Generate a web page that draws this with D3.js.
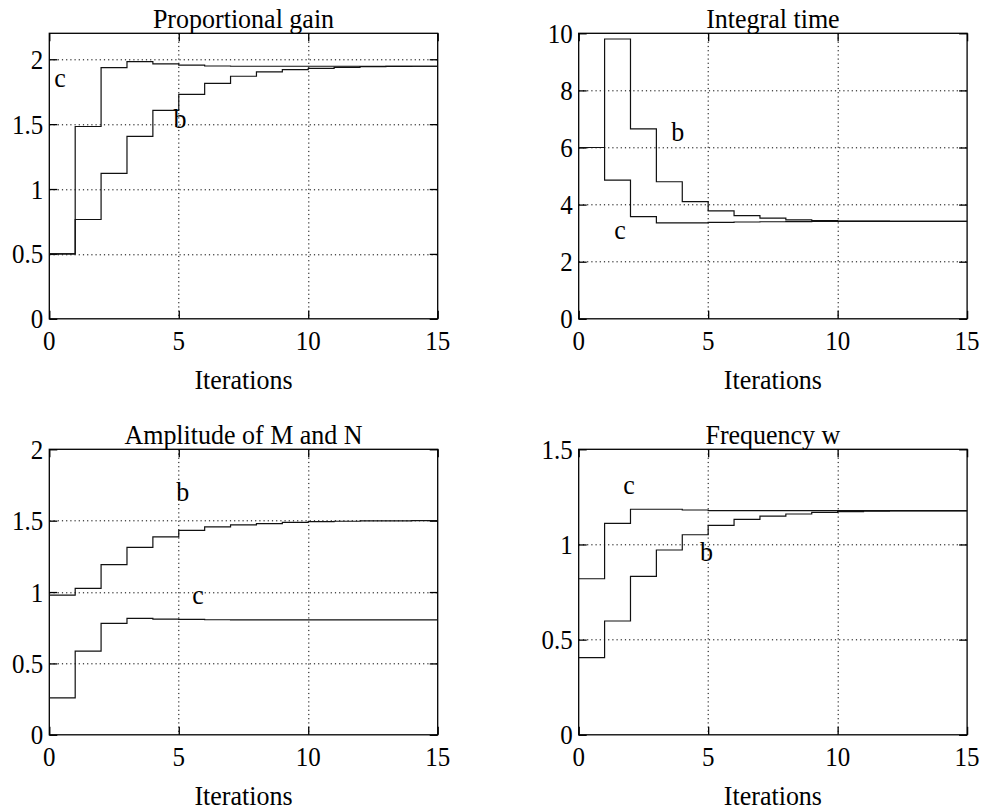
<!DOCTYPE html>
<html>
<head>
<meta charset="utf-8">
<script src="https://cdn.jsdelivr.net/npm/d3@7"></script>
<style>
  body { margin: 0; background: #fff; }
  svg { display: block; font-family: "Liberation Serif", "Times New Roman", serif; }
</style>
</head>
<body>
<svg id="chart" width="981" height="812"></svg>
<script>
// Iteration index: value k holds on [k, k+1)
const iterations = d3.range(0, 16);

// Proportional gain
const gainB = [0.50, 0.765, 1.121, 1.405, 1.606, 1.729, 1.814, 1.869, 1.902, 1.920, 1.930, 1.938, 1.943, 1.945, 1.946, 1.946];
const gainC = [0.50, 1.482, 1.936, 1.982, 1.964, 1.954, 1.948, 1.946, 1.946, 1.946, 1.946, 1.946, 1.946, 1.946, 1.946, 1.946];

// Integral time
const integB = [6.0, 9.80, 6.65, 4.80, 4.107, 3.78, 3.617, 3.524, 3.466, 3.44, 3.425, 3.419, 3.415, 3.413, 3.412, 3.412];
const integC = [6.0, 4.854, 3.58, 3.36, 3.36, 3.38, 3.39, 3.40, 3.405, 3.408, 3.41, 3.41, 3.411, 3.412, 3.412, 3.412];

// Amplitude of M and N
const ampB = [0.979, 1.026, 1.192, 1.313, 1.386, 1.432, 1.456, 1.470, 1.479, 1.488, 1.493, 1.496, 1.498, 1.499, 1.500, 1.500];
const ampC = [0.259, 0.586, 0.780, 0.815, 0.811, 0.808, 0.806, 0.805, 0.805, 0.805, 0.805, 0.805, 0.805, 0.805, 0.805, 0.805];

// Frequency w
const freqB = [0.405, 0.598, 0.832, 0.971, 1.051, 1.100, 1.132, 1.149, 1.160, 1.169, 1.173, 1.175, 1.176, 1.177, 1.177, 1.177];
const freqC = [0.820, 1.111, 1.185, 1.185, 1.181, 1.178, 1.1775, 1.1775, 1.1775, 1.1775, 1.1775, 1.1775, 1.1775, 1.1775, 1.1775, 1.1775];

const xTicks = [0, 5, 10, 15];

const panels = [
  { title: "Proportional gain", left: 49.3, top: 33.3, yMax: 2.2, yTicks: [0, 0.5, 1, 1.5, 2],
    b: gainB, c: gainC, labelB: [5.05, 1.52], labelC: [0.41, 1.83] },
  { title: "Integral time", left: 578.7, top: 33.3, yMax: 10, yTicks: [0, 2, 4, 6, 8, 10],
    b: integB, c: integC, labelB: [3.83, 6.45], labelC: [1.6, 3.0] },
  { title: "Amplitude of M and N", left: 49.3, top: 449.3, yMax: 2, yTicks: [0, 0.5, 1, 1.5, 2],
    b: ampB, c: ampC, labelB: [5.15, 1.68], labelC: [5.74, 0.957] },
  { title: "Frequency w", left: 578.7, top: 449.3, yMax: 1.5, yTicks: [0, 0.5, 1, 1.5],
    b: freqB, c: freqC, labelB: [4.94, 0.945], labelC: [1.94, 1.296] }
];

const W = 388.4, H = 285.5;
const svg = d3.select("#chart");

// text drawn with a slight vertical stretch (tall serif glyphs)
function tallText(parent, x, y, str, size, sy, anchor) {
  return parent.append("text")
    .attr("transform", `translate(${x},${y}) scale(1,${sy})`)
    .attr("text-anchor", anchor || "middle")
    .attr("font-size", size)
    .attr("fill", "#000")
    .text(str);
}

panels.forEach(p => {
  const g = svg.append("g").attr("transform", `translate(${p.left},${p.top})`);
  const x = d3.scaleLinear().domain([0, 15]).range([0, W]);
  const y = d3.scaleLinear().domain([0, p.yMax]).range([H, 0]);

  // dotted grid
  const grid = g.append("g").attr("stroke", "#000").attr("stroke-width", 1)
    .attr("stroke-dasharray", "1.2,3");
  grid.selectAll(".gx").data(xTicks.filter(t => t > 0 && t < 15)).join("line")
    .attr("x1", d => Math.round(x(d)) + 0.5).attr("x2", d => Math.round(x(d)) + 0.5)
    .attr("y1", 0).attr("y2", H);
  grid.selectAll(".gy").data(p.yTicks.filter(t => t > 0 && t < p.yMax)).join("line")
    .attr("y1", d => Math.round(y(d)) + 0.5).attr("y2", d => Math.round(y(d)) + 0.5)
    .attr("x1", 0).attr("x2", W);

  // inward tick marks on all four sides
  const tickStyle = sel => {
    sel.select(".domain").remove();
    sel.selectAll(".tick line").attr("stroke", "#000").attr("stroke-width", 1.3);
    sel.selectAll(".tick text").remove();
  };
  g.append("g").attr("transform", `translate(0,${H})`)
    .call(d3.axisBottom(x).tickValues(xTicks).tickSizeInner(-8)).call(tickStyle);
  g.append("g")
    .call(d3.axisTop(x).tickValues(xTicks).tickSizeInner(-8)).call(tickStyle);
  g.append("g")
    .call(d3.axisLeft(y).tickValues(p.yTicks).tickSizeInner(-8)).call(tickStyle);
  g.append("g").attr("transform", `translate(${W},0)`)
    .call(d3.axisRight(y).tickValues(p.yTicks).tickSizeInner(-8)).call(tickStyle);

  // tick labels
  xTicks.forEach(t => tallText(g, x(t), H + 31, String(t), 25, 1.12, "middle"));
  p.yTicks.forEach(t => tallText(g, -6, y(t) + 9.5, String(t), 25, 1.12, "end"));

  // frame
  g.append("rect").attr("width", W).attr("height", H)
    .attr("fill", "none").attr("stroke", "#000").attr("stroke-width", 1.3);

  // step traces
  const line = d3.line()
    .x((d, i) => x(iterations[i]))
    .y(d => y(d))
    .curve(d3.curveStepAfter);
  [p.b, p.c].forEach(vals => {
    g.append("path").datum(vals).attr("d", line)
      .attr("fill", "none").attr("stroke", "#111").attr("stroke-width", 1.2);
  });

  // series labels
  [["b", p.labelB], ["c", p.labelC]].forEach(([t, pos]) => {
    tallText(g, x(pos[0]), y(pos[1]) + 6, t, 26, 1.08, "middle");
  });

  // title and x axis label
  tallText(g, W / 2, -5, p.title, 26, 1.06, "middle");
  tallText(g, W / 2, H + 70.5, "Iterations", 26, 1.06, "middle");
});
</script>
</body>
</html>
